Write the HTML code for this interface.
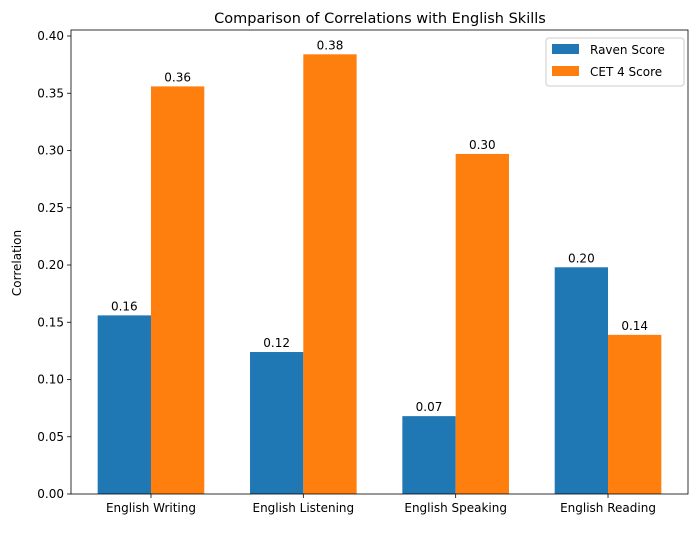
<!DOCTYPE html>
<html><head><meta charset="utf-8"><style>
body{margin:0;background:#fff;font-family:"Liberation Sans","DejaVu Sans",sans-serif;}
svg text{font-family:"DejaVu Sans","Liberation Sans",sans-serif;}
</style></head><body>
<svg id="chart" width="700" height="528" xmlns="http://www.w3.org/2000/svg">
<rect width="700" height="528" fill="#fff"/>
<text x="380" y="23" font-size="14.5" text-anchor="middle">Comparison of Correlations with English Skills</text>
<text transform="translate(21,263) rotate(-90)" font-size="12" text-anchor="middle">Correlation</text>
<g id="bars"></g><g id="axes"></g>
<g>
<rect x="546" y="38" width="138" height="48" rx="3" fill="#fff" stroke="#ccc"/>
<g><rect x="552" y="44" width="27" height="10" fill="#1f77b4"/><text x="590" y="54" font-size="12">Raven Score</text></g>
<g><rect x="552" y="66" width="27" height="10" fill="#ff7f0e"/><text x="590" y="76" font-size="12">CET 4 Score</text></g>
</g>
</svg>
<script>
const categories=["English Writing","English Listening","English Speaking","English Reading"];
const ravenValues=[0.156,0.124,0.068,0.198];
const cetValues=[0.356,0.384,0.297,0.139];
const yTicks=[0,0.05,0.10,0.15,0.20,0.25,0.30,0.35,0.40];
const L=71,R=688,T=30,B=494;
const NS="http://www.w3.org/2000/svg";
const xs=v=>L+(v+0.525)/4.05*(R-L);
const ys=v=>B-v/0.4*458;
function mk(t,a,p){const e=document.createElementNS(NS,t);for(const k in a)e.setAttribute(k,a[k]);p.appendChild(e);return e;}
const bars=document.getElementById('bars'),axes=document.getElementById('axes');
const bw=0.35;
[[ravenValues,-bw/2,"#1f77b4","raven"],[cetValues,bw/2,"#ff7f0e","cet4"]].forEach(([vals,off,col,nm])=>{
 vals.forEach((v,i)=>{
  const x0=xs(i+off-bw/2),x1=xs(i+off+bw/2);
  const r=mk('rect',{x:x0,y:ys(v),width:x1-x0,height:B-ys(v),fill:col},bars);
  
  
  const t=mk('text',{x:(x0+x1)/2,y:ys(v)-5,'font-size':12,'text-anchor':'middle'},bars);
  t.textContent=v.toFixed(2);
  
  
 });
});
const fr=mk('rect',{x:L,y:T,width:R-L,height:B-T,fill:'none',stroke:'#000','stroke-width':0.8},axes);


yTicks.forEach(v=>{
 mk('line',{x1:L-4,x2:L,y1:ys(v),y2:ys(v),stroke:'#000','stroke-width':0.8},axes);
 const t=mk('text',{x:L-7,y:ys(v)+4,'font-size':12,'text-anchor':'end'},axes);
 t.textContent=v.toFixed(2);
 
 
});
categories.forEach((c,i)=>{
 mk('line',{x1:xs(i),x2:xs(i),y1:B,y2:B+4,stroke:'#000','stroke-width':0.8},axes);
 const t=mk('text',{x:xs(i),y:B+18,'font-size':12,'text-anchor':'middle'},axes);
 t.textContent=c;
 
 
});
</script>
</body></html>
